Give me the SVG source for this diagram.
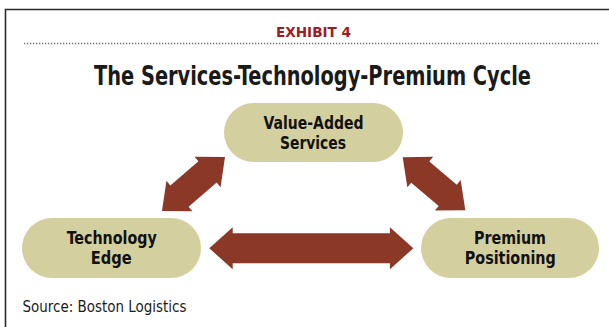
<svg xmlns="http://www.w3.org/2000/svg" width="609" height="327" viewBox="0 0 609 327">
  <style>
    .frame { stroke: #2a2a2a; stroke-width: 1.6; fill: none; }
    .dots { stroke: #6f6f6f; stroke-width: 1.3; stroke-dasharray: 1.3 1.7; fill: none; }
    .pill { fill: #d4cf9e; }
    .arrow { fill: #8c3826; }
    .cond { font-family: "Liberation Sans Narrow", "DejaVu Sans Condensed", "Liberation Sans", Arial, sans-serif; }
    .lbl { font-weight: bold; font-size: 17px; fill: #111; text-anchor: middle; }
  </style>
  <rect width="609" height="327" fill="#ffffff"/>
  <path class="frame" d="M5.5 327 V9.5 H609"/>
  <text class="cond" x="313.5" y="36.5" font-size="14.5" font-weight="bold" fill="#9e1b22" text-anchor="middle" textLength="75" lengthAdjust="spacingAndGlyphs">EXHIBIT 4</text>
  <line class="dots" x1="24" y1="43.5" x2="600" y2="43.5"/>
  <text class="cond" x="312.5" y="85" font-size="26.5" font-weight="bold" fill="#1a1a1a" text-anchor="middle" textLength="437" lengthAdjust="spacingAndGlyphs">The Services-Technology-Premium Cycle</text>

  <g id="connectors">
    <path class="arrow" transform="translate(311.3 248.3)" d="M-102 0 L-78.6 -21 L-78.6 -15 L78.6 -15 L78.6 -21 L102 0 L78.6 21 L78.6 15 L-78.6 15 L-78.6 21 Z"/>
    <path class="arrow" transform="translate(193.5 184) rotate(-40.6)" d="M-41.5 0 L-18.5 -20 L-18.5 -14 L18.5 -14 L18.5 -20 L41.5 0 L18.5 20 L18.5 14 L-18.5 14 L-18.5 20 Z"/>
    <path class="arrow" transform="translate(434 183.7) rotate(40.2)" d="M-41 0 L-18 -20 L-18 -14 L18 -14 L18 -20 L41 0 L18 20 L18 14 L-18 14 L-18 20 Z"/>
  </g>

  <g id="value-added-services">
    <rect class="pill" x="224" y="103" width="179" height="59" rx="29.5"/>
    <text class="cond lbl" x="313.5" y="129" textLength="100" lengthAdjust="spacingAndGlyphs">Value-Added</text>
    <text class="cond lbl" x="313" y="149" textLength="66" lengthAdjust="spacingAndGlyphs">Services</text>
  </g>
  <g id="technology-edge">
    <rect class="pill" x="22" y="218" width="179" height="60" rx="30"/>
    <text class="cond lbl" x="111.7" y="244.3" textLength="90" lengthAdjust="spacingAndGlyphs">Technology</text>
    <text class="cond lbl" x="111.3" y="264" textLength="41" lengthAdjust="spacingAndGlyphs">Edge</text>
  </g>
  <g id="premium-positioning">
    <rect class="pill" x="421" y="218" width="178" height="60" rx="30"/>
    <text class="cond lbl" x="510" y="244.3" textLength="72" lengthAdjust="spacingAndGlyphs">Premium</text>
    <text class="cond lbl" x="510.3" y="264" textLength="91" lengthAdjust="spacingAndGlyphs">Positioning</text>
  </g>

  <text class="cond" x="22.5" y="312" font-size="16.5" fill="#1a1a1a" textLength="164" lengthAdjust="spacingAndGlyphs">Source: Boston Logistics</text>
</svg>
